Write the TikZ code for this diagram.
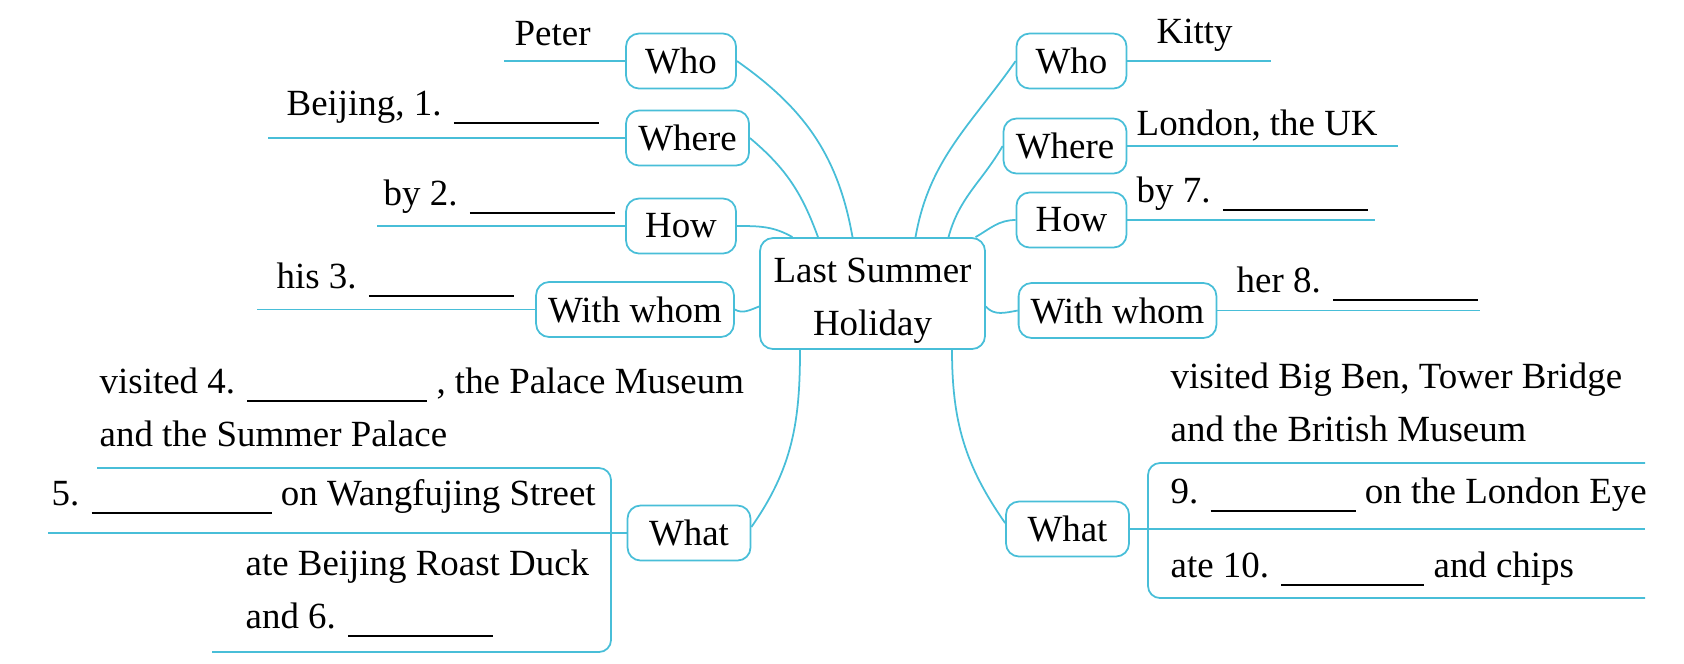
\documentclass[tikz,border=0pt]{standalone}
\usepackage{fontspec}
\setmainfont{Liberation Serif}
\usepackage{tikz}
\definecolor{mapcyan}{RGB}{72,190,216}
\newcommand\fillin[1][1.45cm]{\rule[-2.6pt]{#1}{0.6pt}}

\begin{document}
\begin{tikzpicture}[
  font=\fontsize{10.5}{15}\selectfont,
  wire/.style={draw=mapcyan, line width=0.5pt},
  topic/.style={draw=mapcyan, line width=0.5pt, rounded corners=0.13cm, minimum width=1.1cm, minimum height=0.55cm, inner xsep=0.12cm, inner ysep=0pt},
  wide/.style={topic, minimum width=1.23cm},
  hubbox/.style={topic, align=center, minimum width=2.25cm, minimum height=1.11cm},
  answer/.style={anchor=base west, inner sep=0pt}
]
\useasboundingbox (0, 0) rectangle (16.84, -6.63);
\node[hubbox] (hub) at (8.725, -2.935) {\rule{0pt}{11pt}Last Summer\\Holiday};
\node[topic] (whoL) at (6.81, -0.61) {Who};
\node[wide] (whereL) at (6.875, -1.38) {Where};
\node[topic] (howL) at (6.81, -2.26) {How};
\node[topic] (withL) at (6.35, -3.095) {With whom};
\node[wide] (whatL) at (6.89, -5.33) {What};
\node[topic] (whoR) at (10.715, -0.61) {Who};
\node[wide] (whereR) at (10.65, -1.46) {Where};
\node[topic] (howR) at (10.715, -2.2) {How};
\node[topic] (withR) at (11.175, -3.105) {With whom};
\node[wide] (whatR) at (10.675, -5.29) {What};
\coordinate (peterEnd) at (5.04, -0.61);
\coordinate (beijingEnd) at (2.68, -1.38);
\coordinate (by2End) at (3.77, -2.26);
\coordinate (his3End) at (2.57, -3.095);
\coordinate (kittyEnd) at (12.71, -0.61);
\coordinate (londonEnd) at (13.98, -1.46);
\coordinate (by7End) at (13.75, -2.2);
\coordinate (her8End) at (14.8, -3.105);
\coordinate (lTop) at (0.97, -4.68);
\coordinate (lMid) at (0.48, -5.33);
\coordinate (lBot) at (2.12, -6.52);
\coordinate (rTop) at (16.45, -4.63);
\coordinate (rMid) at (16.45, -5.29);
\coordinate (rBot) at (16.45, -5.98);
\draw[wire] (peterEnd) -- (whoL.west);
\draw[wire] (beijingEnd) -- (whereL.west);
\draw[wire] (by2End) -- (howL.west);
\draw[wire] (his3End) -- (withL.west);
\draw[wire] (whoR.east) -- (kittyEnd);
\draw[wire] (whereR.east) -- (londonEnd);
\draw[wire] (howR.east) -- (by7End);
\draw[wire] (withR.east) -- (her8End);
\draw[wire, rounded corners=0.12cm] (lTop) -- (6.11, -4.68) -- (6.11, -6.52) -- (lBot);
\draw[wire] (lMid) -- (whatL.west);
\draw[wire, rounded corners=0.12cm] (rTop) -- (11.48, -4.63) -- (11.48, -5.98) -- (rBot);
\draw[wire] (whatR.east) -- (rMid);
\draw[wire] (whoL.east) to[out=-35, in=100] ([xshift=-0.2cm]hub.north);
\draw[wire] (whereL.east) to[out=-40, in=110] ([xshift=-0.545cm]hub.north);
\draw[wire] (howL.east) to[out=0, in=150] ([xshift=-0.8cm]hub.north);
\draw[wire] (withL.east) to[out=-30, in=-160] ([yshift=-0.13cm]hub.west);
\draw[wire] ([xshift=-0.725cm]hub.south) to[out=-90, in=55] ([yshift=0.06cm]whatL.east);
\draw[wire] ([xshift=0.43cm]hub.north) to[out=80, in=-125] (whoR.west);
\draw[wire] ([xshift=0.76cm]hub.north) to[out=75, in=-120] (whereR.west);
\draw[wire] ([xshift=1.03cm]hub.north) to[out=30, in=180] (howR.west);
\draw[wire] ([yshift=-0.13cm]hub.east) to[out=-50, in=-170] (withR.west);
\draw[wire] ([xshift=0.795cm]hub.south) to[out=-90, in=125] ([yshift=0.06cm]whatR.west);
\node[answer] (peter) at (5.14, -0.45) {Peter};
\node[answer] (ans1) at (2.86, -1.15) {Beijing, 1. \fillin};
\node[answer] (ans2) at (3.83, -2.05) {by 2. \fillin};
\node[answer] (ans3) at (2.76, -2.88) {his 3. \fillin};
\node[answer] (ans4) at (0.99, -3.93) {visited 4. \fillin[1.8cm] , the Palace Museum};
\node[answer] (ans4b) at (0.99, -4.46) {and the Summer Palace};
\node[answer] (ans5) at (0.51, -5.05) {5. \fillin[1.8cm] on Wangfujing Street};
\node[answer] (ans6a) at (2.45, -5.75) {ate Beijing Roast Duck};
\node[answer] (ans6) at (2.45, -6.28) {and 6. \fillin};
\node[answer] (kitty) at (11.56, -0.43) {Kitty};
\node[answer] (london) at (11.36, -1.35) {London, the UK};
\node[answer] (ans7) at (11.36, -2.02) {by 7. \fillin};
\node[answer] (ans8) at (12.36, -2.92) {her 8. \fillin};
\node[answer] (bigben) at (11.70, -3.88) {visited Big Ben, Tower Bridge};
\node[answer] (bigbenb) at (11.70, -4.41) {and the British Museum};
\node[answer] (ans9) at (11.70, -5.03) {9. \fillin\ on the London Eye};
\node[answer] (ans10) at (11.70, -5.77) {ate 10. \fillin[1.43cm] and chips};
\end{tikzpicture}
\end{document}
